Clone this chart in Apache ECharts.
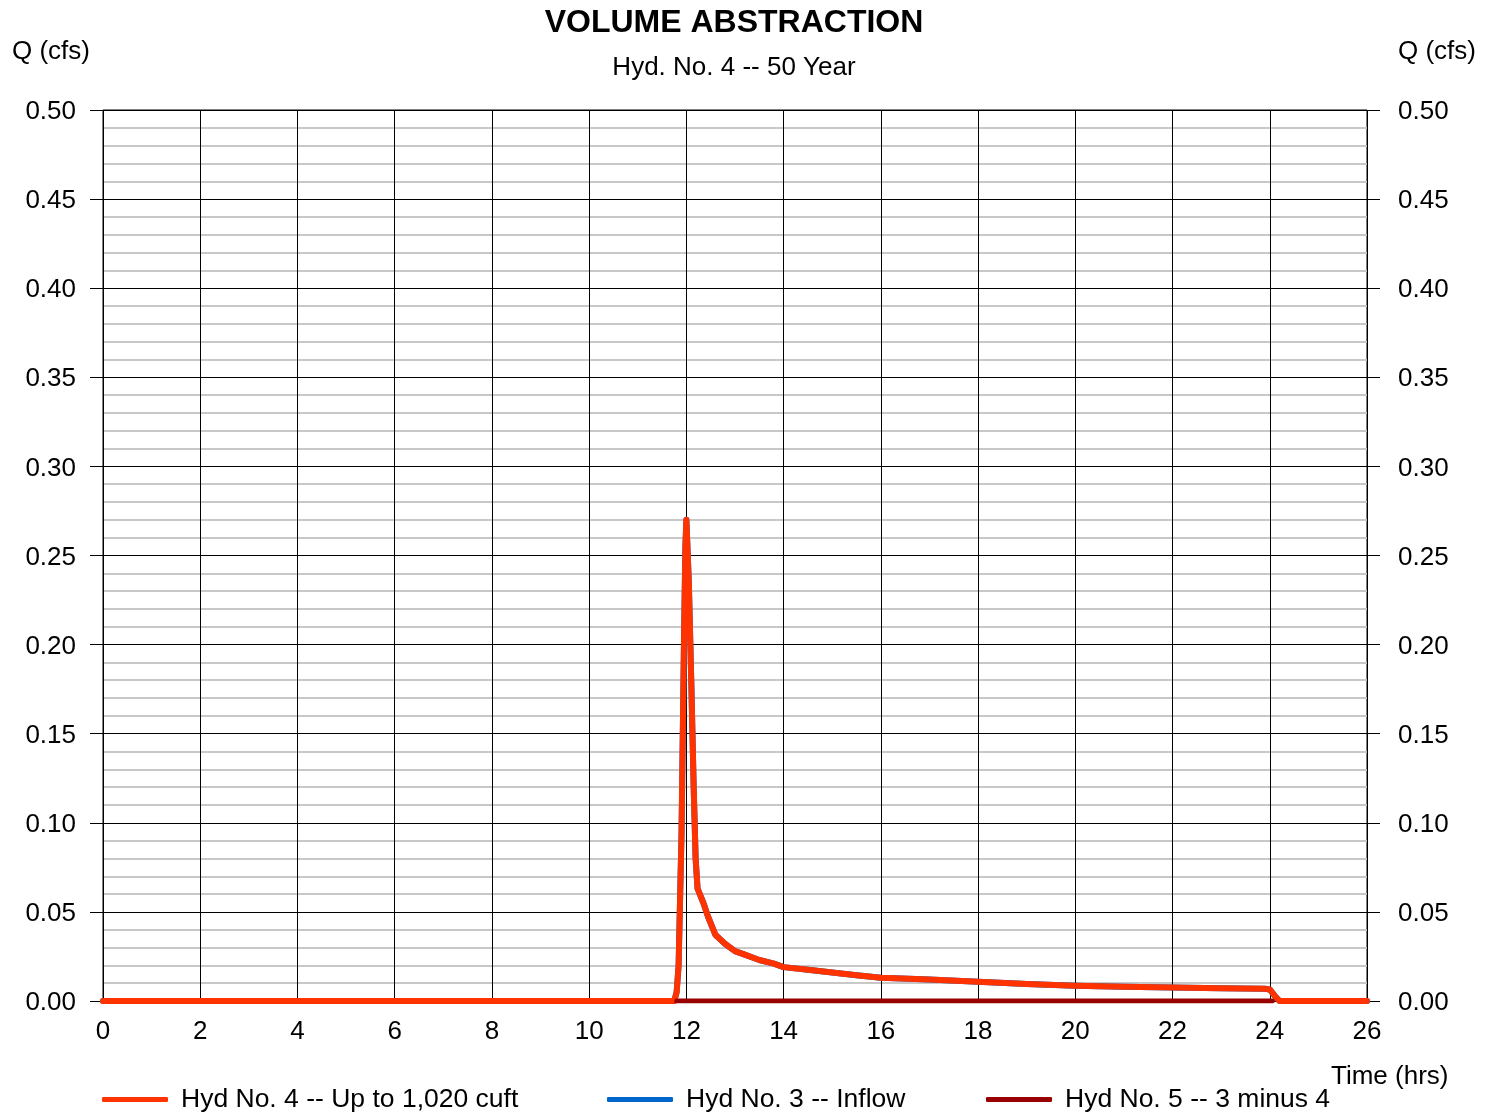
<!DOCTYPE html>
<html>
<head>
<meta charset="utf-8">
<script src="https://cdn.jsdelivr.net/npm/echarts@6/dist/echarts.min.js"></script>
<style>html,body{margin:0;padding:0;background:#fff}#c{width:1494px;height:1112px}</style>
</head>
<body>
<div id="c"></div>
<script>
var titleText = 'VOLUME ABSTRACTION';
var subtitleText = 'Hyd. No. 4 -- 50 Year';
var yAxisName = 'Q (cfs)';
var xAxisName = 'Time (hrs)';
var seriesNames = ['Hyd No. 4 -- Up to 1,020 cuft', 'Hyd No. 3 -- Inflow', 'Hyd No. 5 -- 3 minus 4'];
var seriesColors = ['#ff3300', '#0066cc', '#990000'];

// [time (hrs), Q (cfs)]
var hyd4 = [[0,0],[11.75,0],[11.8,0.005],[11.84,0.02],[11.9,0.094],[11.95,0.2],[11.98,0.255],[12.0,0.27],
  [12.05,0.235],[12.1,0.18],[12.15,0.12],[12.19,0.08],[12.23,0.063],[12.35,0.055],[12.45,0.047],[12.6,0.037],
  [12.8,0.032],[13.0,0.028],[13.2,0.026],[13.5,0.023],[13.8,0.021],[14.0,0.019],[14.5,0.0175],[15.0,0.016],
  [15.5,0.0145],[16.0,0.013],[17.0,0.012],[18.0,0.0108],[19.0,0.0095],[20.0,0.0085],[21.0,0.008],[22.0,0.0076],
  [23.0,0.0072],[23.9,0.0069],[24.0,0.0065],[24.1,0.003],[24.2,0],[26,0]];
var hyd3 = hyd4.slice();
var hyd5 = [[11.8,0],[24.05,0]];

var font = 'Liberation Sans, Arial, sans-serif';
var chart = echarts.init(document.getElementById('c'), null, {renderer: 'canvas'});

function legendAt(left, idx) {
  return {
    left: left, top: 1081, itemWidth: 66, itemHeight: 5, icon: 'roundRect', selectedMode: false,
    data: [seriesNames[idx]],
    textStyle: {fontFamily: font, fontSize: 26.5, color: '#000', padding: [0,0,0,8]}
  };
}

var yAxisCommon = {
  type: 'value', min: 0, max: 0.5, interval: 0.05,
  axisLine: {show: false},
  axisTick: {show: true, length: 13, lineStyle: {color: '#000', width: 1}},
  axisLabel: {
    fontFamily: font, fontSize: 26, color: '#000',
    formatter: function (v) { return '{a|' + v.toFixed(2) + '}'; },
    rich: {a: {fontFamily: font, fontSize: 26, color: '#000', padding: [4, 0, 0, 0]}}
  }
};

chart.setOption({
  animation: false,
  backgroundColor: '#fff',
  grid: {left: 103, right: 127, top: 110, bottom: 111, containLabel: false, show: true, borderColor: '#000', borderWidth: 1},
  legend: [legendAt(97, 0), legendAt(602, 1), legendAt(981, 2)],
  xAxis: {
    type: 'value', min: 0, max: 26, interval: 2,
    axisLine: {show: false},
    axisTick: {show: false},
    axisLabel: {fontFamily: font, fontSize: 26, color: '#000', margin: 18},
    splitLine: {show: true, lineStyle: {color: '#000', width: 1}}
  },
  yAxis: [
    Object.assign({}, yAxisCommon, {
      position: 'left',
      axisLabel: Object.assign({}, yAxisCommon.axisLabel, {margin: 27}),
      splitLine: {show: true, lineStyle: {color: '#000', width: 1}},
      minorTick: {show: false, splitNumber: 5},
      minorSplitLine: {show: true, lineStyle: {color: '#c8c8c8', width: 2}}
    }),
    Object.assign({}, yAxisCommon, {
      position: 'right',
      axisLabel: Object.assign({}, yAxisCommon.axisLabel, {margin: 31}),
      splitLine: {show: false}
    })
  ],
  graphic: [
    {type: 'text', x: 734, y: 7, style: {text: titleText, textAlign: 'center', font: 'bold 32px ' + font, fill: '#000'}},
    {type: 'text', x: 734, y: 55, style: {text: subtitleText, textAlign: 'center', font: '26px ' + font, fill: '#000'}},
    {type: 'text', x: 12, y: 39, style: {text: yAxisName, font: '26px ' + font, fill: '#000'}},
    {type: 'text', x: 1398, y: 39, style: {text: yAxisName, font: '26px ' + font, fill: '#000'}},
    {type: 'text', x: 1331, y: 1064, style: {text: xAxisName, font: '26px ' + font, fill: '#000'}}
  ],
  series: [
    {name: seriesNames[0], type: 'line', data: hyd4, showSymbol: false, symbol: 'none', z: 3,
      itemStyle: {color: seriesColors[0]}, lineStyle: {color: seriesColors[0], width: 6, cap: 'round', join: 'round'}},
    {name: seriesNames[1], type: 'line', data: hyd3, showSymbol: false, symbol: 'none', z: 2,
      itemStyle: {color: seriesColors[1]}, lineStyle: {color: seriesColors[1], width: 6, cap: 'round', join: 'round'}},
    {name: seriesNames[2], type: 'line', data: hyd5, showSymbol: false, symbol: 'none', z: 4,
      itemStyle: {color: seriesColors[2]}, lineStyle: {color: seriesColors[2], width: 5, cap: 'round', join: 'round'}}
  ]
});
</script>
</body>
</html>
